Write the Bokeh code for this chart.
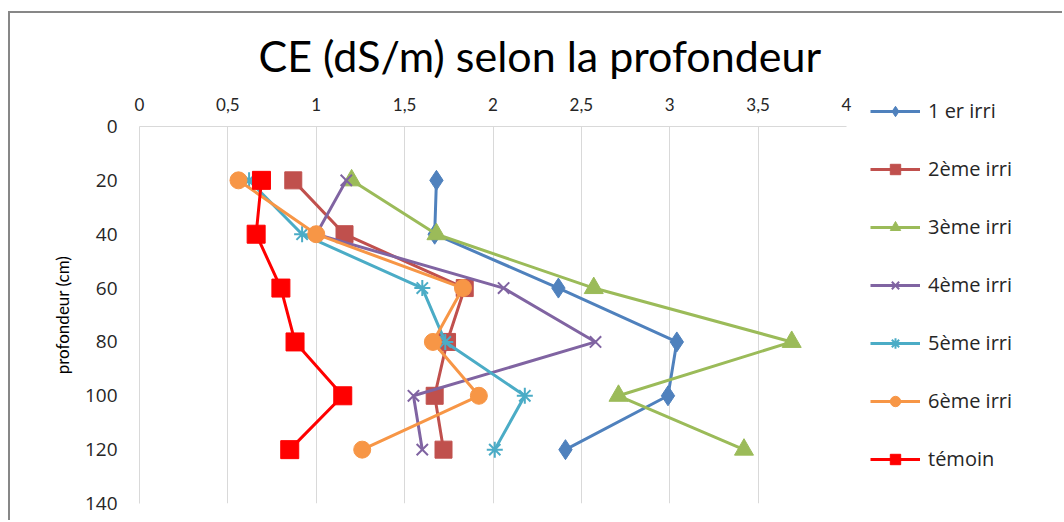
from bokeh.plotting import figure
from bokeh.layouts import row
from bokeh.models import Range1d, Legend, LegendItem, LinearAxis, FixedTicker, Title
from bokeh.embed import file_html
from bokeh.resources import INLINE

depth = [20, 40, 60, 80, 100, 120]
irri1 = [1.68, 1.67, 2.37, 3.04, 2.99, 2.41]
irri2 = [0.87, 1.16, 1.84, 1.74, 1.67, 1.72]
irri3 = [1.20, 1.68, 2.57, 3.69, 2.71, 3.42]
irri4 = [1.17, 1.00, 2.06, 2.58, 1.55, 1.60]
irri5 = [0.62, 0.92, 1.60, 1.73, 2.18, 2.01]
irri6 = [0.56, 1.00, 1.83, 1.66, 1.92, 1.26]
temoin = [0.69, 0.66, 0.80, 0.88, 1.15, 0.85]

labels = ["1 er irri", "2ème irri", "3ème irri", "4ème irri", "5ème irri", "6ème irri", "témoin"]
x_ticks = [0, 0.5, 1, 1.5, 2, 2.5, 3, 3.5, 4]
x_tick_labels = ["0", "0,5", "1", "1,5", "2", "2,5", "3", "3,5", "4"]
y_ticks = [0, 20, 40, 60, 80, 100, 120, 140]

BORDER = "2px solid #878787"

p = figure(width=846, height=509, output_backend="svg", toolbar_location=None,
           x_range=Range1d(0, 4), y_range=Range1d(140, 0),
           x_axis_location=None, y_axis_location=None,
           min_border_left=129, min_border_right=10, min_border_top=110, min_border_bottom=19)
p.outline_line_color = None
p.background_fill_color = "white"
p.border_fill_color = "white"
p.margin = (11, 0, 0, 8)
p.styles = {"border-left": BORDER, "border-top": BORDER}

xaxis = LinearAxis(ticker=FixedTicker(ticks=x_ticks),
                   major_label_overrides={t: l for t, l in zip(x_ticks, x_tick_labels)})
xaxis.axis_line_color = "#d9d9d9"
xaxis.major_tick_line_color = None
xaxis.minor_tick_line_color = None
xaxis.major_tick_out = 0
xaxis.major_tick_in = 0
xaxis.major_label_standoff = 16
xaxis.major_label_text_font = "Lato"
xaxis.major_label_text_font_size = "17px"
xaxis.major_label_text_color = "#262626"
p.add_layout(xaxis, "above")

yaxis = LinearAxis(ticker=FixedTicker(ticks=y_ticks), axis_label="profondeur (cm)")
yaxis.axis_line_color = "#d9d9d9"
yaxis.major_tick_line_color = None
yaxis.minor_tick_line_color = None
yaxis.major_tick_out = 0
yaxis.major_tick_in = 0
yaxis.major_label_standoff = 22
yaxis.major_label_text_font = "Open Sans"
yaxis.major_label_text_font_size = "19px"
yaxis.major_label_text_color = "#262626"
yaxis.axis_label_text_font = "Lato"
yaxis.axis_label_text_font_size = "17px"
yaxis.axis_label_text_font_style = "normal"
yaxis.axis_label_text_color = "#000000"
yaxis.axis_label_standoff = 9
p.add_layout(yaxis, "left")

p.xgrid.ticker = FixedTicker(ticks=x_ticks)
p.xgrid.grid_line_color = "#d9d9d9"
p.ygrid.grid_line_color = None

p.title = Title(text="CE (dS/m) selon la profondeur", align="left", offset=119,
                text_font="Lato", text_font_size="43px", text_font_style="normal",
                text_color="#000000", standoff=28)

series = [irri1, irri2, irri3, irri4, irri5, irri6, temoin]
colors = ["#4F81BD", "#C0504D", "#9BBB59", "#8064A2", "#4BACC6", "#F79646", "#FF0000"]
markers = ["diamond", "square", "triangle", "x", "asterisk", "circle", "square"]
sizes = [20, 17, 19, 16, 16, 17, 18]

# legend figure (to the right of the plot); its renderers hold the same data
# but its ranges keep them out of view, so only the legend shows
pl = figure(width=208, height=509, output_backend="svg", toolbar_location=None,
            x_range=Range1d(0, 1), y_range=Range1d(0, 1),
            x_axis_location=None, y_axis_location=None,
            min_border_left=0, min_border_right=0, min_border_top=0, min_border_bottom=0)
pl.outline_line_color = None
pl.grid.visible = False
pl.background_fill_color = "white"
pl.border_fill_color = "white"
pl.margin = (11, 0, 0, 0)
pl.styles = {"border-top": BORDER}

aligned_off = False
if "frame_align" in pl.properties():
    pl.frame_align = False
    p.frame_align = False
    aligned_off = True

items = []
for vals, c, m, s, lab in zip(series, colors, markers, sizes, labels):
    p.line(vals, depth, line_color=c, line_width=3)
    lr1 = pl.line(vals, depth, line_color=c, line_width=3)
    if m in ("x", "asterisk"):
        p.scatter(vals, depth, marker=m, size=s, line_color=c, line_width=2)
        lr2 = pl.scatter(vals, depth, marker=m, size=s, line_color=c, line_width=2)
    else:
        p.scatter(vals, depth, marker=m, size=s, fill_color=c, line_color=c, line_width=1)
        lr2 = pl.scatter(vals, depth, marker=m, size=s, fill_color=c, line_color=c, line_width=1)
    items.append(LegendItem(label=lab, renderers=[lr1, lr2]))

legend = Legend(items=items, location=(16, 50 if aligned_off else 31))
legend.glyph_width = 50
legend.glyph_height = 26
legend.label_height = 26
legend.spacing = 31
legend.padding = 0
legend.margin = 0
legend.label_standoff = 8
legend.label_text_font = "Open Sans"
legend.label_text_font_size = "20px"
legend.label_text_color = "#262626"
legend.border_line_color = None
legend.background_fill_alpha = 0
pl.add_layout(legend, "center")

layout = row(p, pl)
open("out.html", "w").write(file_html(layout, INLINE))
